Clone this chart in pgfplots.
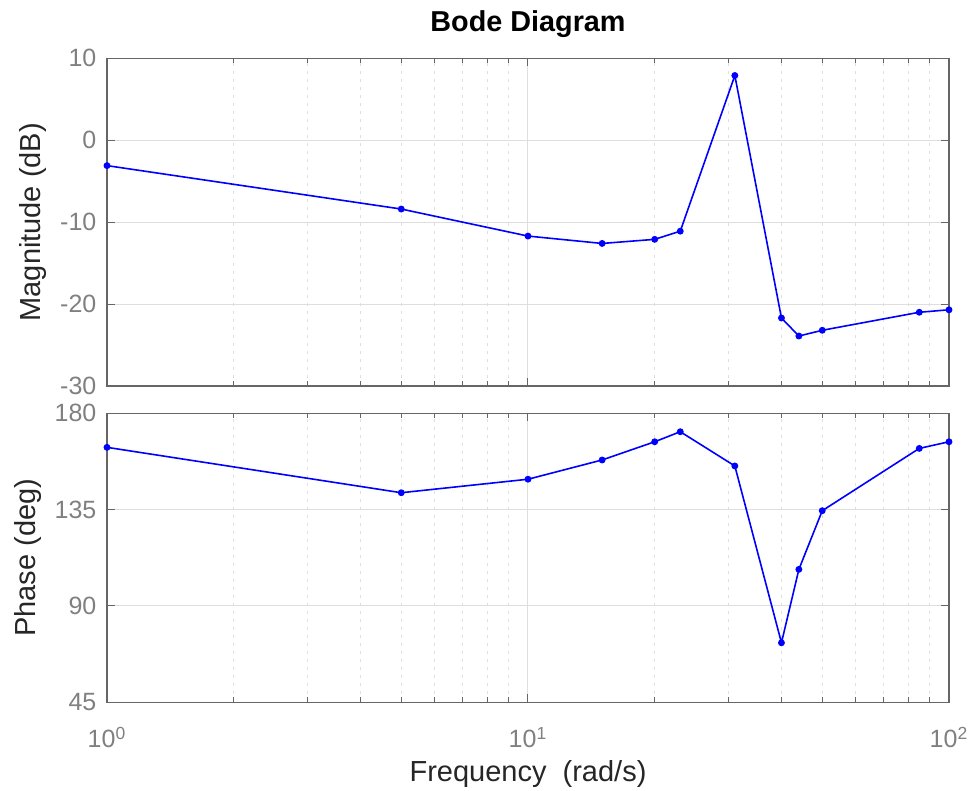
\documentclass[border=0pt]{standalone}
\usepackage{fontspec}
\setmainfont{Liberation Sans}
\usepackage{pgfplots}
\pgfplotsset{compat=1.18}
\definecolor{tickgray}{RGB}{128,128,128}
\definecolor{axgray}{RGB}{102,102,102}
\definecolor{gridgray}{RGB}{222,222,222}
\definecolor{labcol}{RGB}{38,38,38}
\begin{document}
\begin{tikzpicture}
\useasboundingbox (-53.5pt,29.15pt) rectangle (434pt,-366.35pt);
\begin{axis}[
  xmode=log, xmin=1, xmax=100, scale only axis, width=421pt,
  axis line style={axgray, line width=0.6pt},
  tick style={axgray, line width=0.5pt},
  major tick length=4pt, minor tick length=2.5pt,
  tick align=inside,
  xtick={1,10,100}, minor xtick={2,3,4,5,6,7,8,9,20,30,40,50,60,70,80,90},
  xmajorgrids, xminorgrids, ymajorgrids,
  major grid style={gridgray, solid, line width=0.5pt},
  minor grid style={gridgray, line width=0.5pt, dash pattern=on 1.5pt off 2.5pt},
  ticklabel style={font=\fontsize{12.5}{14}\selectfont, color=tickgray},
  yticklabel style={xshift=-1.8pt},
  label style={font=\fontsize{14.5}{17}\selectfont, color=labcol},
  clip=false,
  at={(0,0)}, anchor=north west, height=163.85pt,
  ymin=-30, ymax=10, ytick={-30,-20,-10,0,10}, yticklabels={-30,-20,-10,0,10},
  xticklabels={},
  ylabel={Magnitude (dB)},
  ylabel style={at={(axis description cs:-0.0879,0.5)}, anchor=center},
  title={Bode Diagram},
  title style={at={(0.5,1)}, anchor=base, yshift=7.5pt, font=\fontsize{14.4}{17}\selectfont\bfseries, color=black},
]
\addplot[blue, line width=0.8pt, mark=*, mark size=1.3pt, mark options={fill=blue}] coordinates {
(1,-3.1) (5,-8.4) (10,-11.7) (15,-12.6) (20,-12.1) (23,-11.1) (31,7.9)
(40,-21.7) (44,-23.9) (50,-23.2) (85,-21.0) (100,-20.7)};
\end{axis}
\begin{axis}[
  xmode=log, xmin=1, xmax=100, scale only axis, width=421pt,
  axis line style={axgray, line width=0.6pt},
  tick style={axgray, line width=0.5pt},
  major tick length=4pt, minor tick length=2.5pt,
  tick align=inside,
  xtick={1,10,100}, minor xtick={2,3,4,5,6,7,8,9,20,30,40,50,60,70,80,90},
  xmajorgrids, xminorgrids, ymajorgrids,
  major grid style={gridgray, solid, line width=0.5pt},
  minor grid style={gridgray, line width=0.5pt, dash pattern=on 1.5pt off 2.5pt},
  ticklabel style={font=\fontsize{12.5}{14}\selectfont, color=tickgray},
  yticklabel style={xshift=-1.8pt},
  label style={font=\fontsize{14.5}{17}\selectfont, color=labcol},
  clip=false,
  at={(0,-177.5pt)}, anchor=north west, height=144.5pt,
  ymin=45, ymax=180, ytick={45,90,135,180}, yticklabels={45,90,135,180},
  xticklabels={10\textsuperscript{0},10\textsuperscript{1},10\textsuperscript{2}},
  xticklabel style={anchor=base, yshift=-22.8pt},
  ylabel={Phase (deg)},
  ylabel style={at={(axis description cs:-0.0944,0.5)}, anchor=center},
  xlabel={Frequency\ \ (rad/s)},
  xlabel style={at={(axis description cs:0.5,0)}, anchor=base, yshift=-39.5pt},
]
\addplot[blue, line width=0.8pt, mark=*, mark size=1.3pt, mark options={fill=blue}] coordinates {
(1,164.1) (5,142.9) (10,149.2) (15,158.2) (20,166.7) (23,171.4) (31,155.4)
(40,72.8) (44,107.1) (50,134.5) (85,163.6) (100,166.7)};
\end{axis}
\end{tikzpicture}
\end{document}
